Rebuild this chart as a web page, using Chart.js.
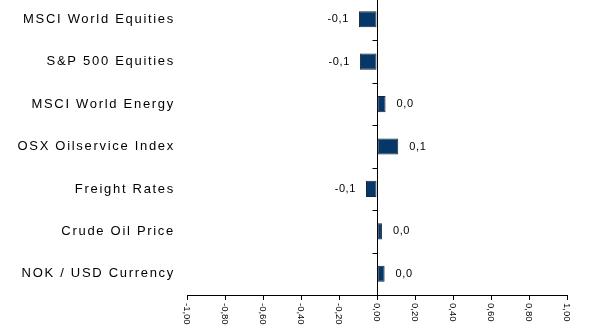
<!DOCTYPE html>
<html>
<head>
<meta charset="utf-8">
<script src="https://cdn.jsdelivr.net/npm/chart.js@4"></script>
<style>
    html, body { margin: 0; padding: 0; background: #fff; overflow: hidden; }
    #chart { position: absolute; left: 0; top: -2px; }
</style>
</head>
<body>
<canvas id="chart" width="613" height="331"></canvas>
<script>
// Categories and values
const categories = ['MSCI World Equities', 'S&P 500 Equities', 'MSCI World Energy', 'OSX Oilservice Index', 'Freight Rates', 'Crude Oil Price', 'NOK / USD Currency'];
const values = [-0.095, -0.09, 0.045, 0.112, -0.058, 0.026, 0.04];
const xTicks = [-1, -0.8, -0.6, -0.4, -0.2, 0, 0.2, 0.4, 0.6, 0.8, 1];

const FONT = '"Liberation Sans", Arial, sans-serif';

function fmt(v, d) {
    return v.toFixed(d).replace('.', ',');
}

// Draws the category labels, data labels, x tick labels and the small ticks on the zero line
const labelPlugin = {
    id: 'labelPlugin',
    afterDraw(chart) {
        const ctx = chart.ctx;
        const xs = chart.scales.x;
        const ys = chart.scales.y;
        const zero = Math.round(xs.getPixelForValue(0)) + 0.5;
        ctx.save();
        ctx.fillStyle = '#000';
        ctx.strokeStyle = '#000';
        ctx.lineWidth = 1;

        // category labels
        ctx.font = '13px ' + FONT;
        ctx.letterSpacing = '1.7px';
        ctx.textAlign = 'right';
        ctx.textBaseline = 'middle';
        categories.forEach((c, i) => {
            ctx.fillText(c, 175, ys.getPixelForValue(i));
        });

        // small ticks between categories on the zero line
        const step = (ys.bottom - ys.top) / categories.length;
        ctx.beginPath();
        for (let i = 1; i < categories.length; i++) {
            const y = Math.round(ys.top + step * i) + 0.5;
            ctx.moveTo(zero - 5, y);
            ctx.lineTo(zero, y);
        }
        ctx.stroke();

        // data labels
        ctx.font = '11px ' + FONT;
        ctx.letterSpacing = '0.6px';
        const meta = chart.getDatasetMeta(0);
        meta.data.forEach((bar, i) => {
            const v = values[i];
            const txt = fmt(v, 1);
            if (v < 0) {
                ctx.textAlign = 'right';
                ctx.fillText(txt, bar.x - 10, bar.y);
            } else {
                ctx.textAlign = 'left';
                ctx.fillText(txt, bar.x + 11, bar.y);
            }
        });

        // x tick labels, rotated clockwise
        ctx.font = '9.5px ' + FONT;
        ctx.letterSpacing = '0px';
        ctx.textAlign = 'left';
        ctx.textBaseline = 'middle';
        xTicks.forEach(t => {
            const x = xs.getPixelForValue(t);
            ctx.save();
            ctx.translate(x, xs.top + 8);
            ctx.rotate(Math.PI / 2);
            ctx.fillText(fmt(t, 2), 0, 0);
            ctx.restore();
        });
        ctx.restore();
    }
};

new Chart(document.getElementById('chart').getContext('2d'), {
    type: 'bar',
    data: {
        labels: categories,
        datasets: [{
            data: values,
            backgroundColor: '#053769',
            borderColor: '#1c2533',
            borderWidth: 1,
            borderSkipped: false,
            categoryPercentage: 1,
            barPercentage: 0.38
        }]
    },
    options: {
        indexAxis: 'y',
        responsive: false,
        animation: false,
        layout: {
            padding: { left: 187, right: 46, top: 0, bottom: 29 }
        },
        plugins: {
            legend: { display: false },
            tooltip: { enabled: false }
        },
        scales: {
            x: {
                min: -1,
                max: 1,
                ticks: { display: false, stepSize: 0.2 },
                grid: {
                    drawTicks: true,
                    tickLength: 5,
                    tickColor: '#000',
                    color: (c) => (c.tick && Math.abs(c.tick.value) < 1e-9) ? '#000' : 'rgba(0,0,0,0)'
                },
                border: { display: true, color: '#000', width: 1 }
            },
            y: {
                display: false
            }
        }
    },
    plugins: [labelPlugin]
});
</script>
</body>
</html>
